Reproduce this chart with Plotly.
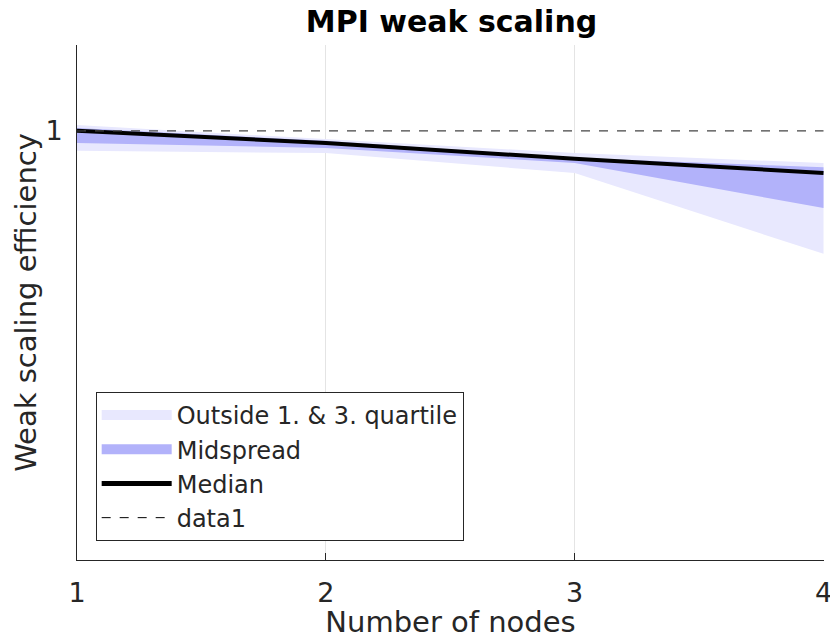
import plotly.graph_objects as go

nodes = [1, 2, 3, 4]
median = [1.000, 0.983, 0.961, 0.941]
q1 = [0.983, 0.976, 0.955, 0.892]
q3 = [1.004, 0.986, 0.962, 0.949]
lower = [0.972, 0.969, 0.941, 0.828]
upper = [1.008, 0.989, 0.969, 0.955]
ideal = [1, 1, 1, 1]

OUTER = "rgb(232,232,254)"
MID = "rgb(178,178,250)"
FONT = "DejaVu Sans"
fig = go.Figure()

fig.add_trace(go.Scatter(
    x=nodes + nodes[::-1], y=upper + lower[::-1], fill="toself",
    fillcolor=OUTER, line=dict(width=0, color=OUTER),
    mode="lines", name="Outside 1. & 3. quartile", hoverinfo="skip",
    showlegend=False))
fig.add_trace(go.Scatter(
    x=nodes + nodes[::-1], y=q3 + q1[::-1], fill="toself",
    fillcolor=MID, line=dict(width=0, color=MID),
    mode="lines", name="Midspread", hoverinfo="skip", showlegend=False))
fig.add_trace(go.Scatter(
    x=nodes, y=median, mode="lines", line=dict(color="black", width=4),
    name="Median", showlegend=False))
fig.add_trace(go.Scatter(
    x=nodes, y=ideal, mode="lines", line=dict(color="#444444", width=1.3, dash="dash"),
    name="data1", showlegend=False))

# legend entries
fig.add_trace(go.Scatter(x=[None], y=[None], mode="lines",
                         line=dict(color=OUTER, width=24), name="Outside 1. & 3. quartile"))
fig.add_trace(go.Scatter(x=[None], y=[None], mode="lines",
                         line=dict(color=MID, width=24), name="Midspread"))
fig.add_trace(go.Scatter(x=[None], y=[None], mode="lines",
                         line=dict(color="black", width=5), name="Median"))
fig.add_trace(go.Scatter(x=[None], y=[None], mode="lines",
                         line=dict(color="black", width=1, dash="dash"), name="data1"))

fig.update_layout(
    width=830, height=639,
    margin=dict(l=77, r=6, t=45, b=79, autoexpand=False),
    plot_bgcolor="white", paper_bgcolor="white",
    font=dict(family=FONT, color="#262626"),
    title=dict(text="<b>MPI weak scaling</b>", x=0.544, xanchor="center",
               y=0.966, yanchor="middle", font=dict(size=30, color="black")),
    legend=dict(x=0.025, y=0.037, xanchor="left", yanchor="bottom",
                bordercolor="#262626", borderwidth=1, bgcolor="white",
                font=dict(size=24, color="#262626"), tracegroupgap=0,
                itemwidth=70, itemsizing="trace"),
    showlegend=True,
)
fig.update_xaxes(
    range=[1, 4.002], tickvals=[1, 2, 3, 4], ticktext=["1", "2", "3", "4"],
    showgrid=True, gridcolor="#e4e4e4", gridwidth=1,
    showline=True, linecolor="#262626", linewidth=1,
    ticks="inside", ticklen=7, tickcolor="#262626",
    tickfont=dict(size=27), zeroline=False, automargin=True,
    ticklabeloverflow="allow", ticklabelstandoff=9,
    title=dict(text="Number of nodes", font=dict(size=29), standoff=6))
fig.update_yaxes(
    range=[0.4, 1.12], tickvals=[1], ticktext=["1"],
    showgrid=False, showline=True, linecolor="#262626", linewidth=1,
    ticks="inside", ticklen=7, tickcolor="#262626",
    tickfont=dict(size=27), zeroline=False, automargin=True,
    ticklabelstandoff=8,
    title=dict(text="Weak scaling efficiency", font=dict(size=29), standoff=0))

fig.write_html("out.html", post_script="document.body.style.margin='0';",
               config={"displayModeBar": False})
